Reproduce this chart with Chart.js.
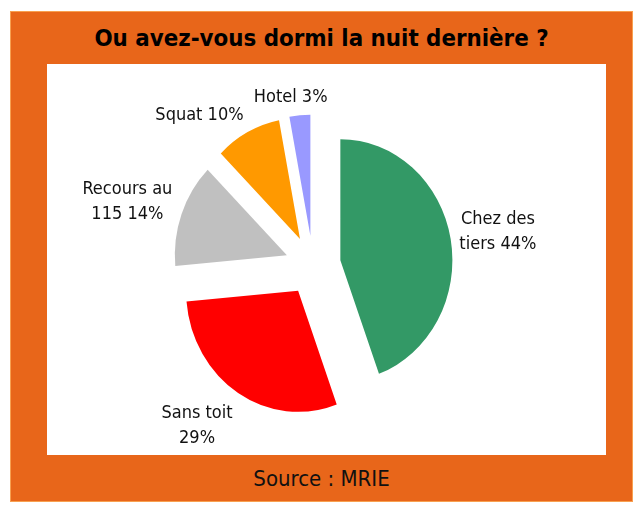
<!DOCTYPE html>
<html><head><meta charset="utf-8">
<script src="https://cdn.jsdelivr.net/npm/chart.js@4.4.0/dist/chart.umd.min.js"></script>
<style>
html,body{margin:0;padding:0;background:#fff;}
#wrap{position:relative;width:637px;height:507px;overflow:hidden;font-family:"DejaVu Sans Condensed","DejaVu Sans",sans-serif;}
#frame{position:absolute;left:10px;top:11px;width:621px;height:489px;background:#E8661A;border:1px solid #F8A050;}
#plot{position:absolute;left:47px;top:64px;width:559px;height:391px;background:#fff;}
#title{position:absolute;left:10px;width:623px;top:24px;line-height:28px;text-align:center;font-weight:bold;font-size:23.8px;color:#000;}
#source{position:absolute;left:10px;width:623px;top:466px;line-height:26px;text-align:center;font-size:22px;color:#111;}
#c{position:absolute;left:0;top:0;}
</style>
</head><body>
<div id="wrap">
  <div id="frame"></div>
  <div id="plot"></div>
  <div id="title">Ou avez-vous dormi la nuit dernière ?</div>
  <div id="source">Source : MRIE</div>
  <canvas id="c" width="637" height="507"></canvas>
</div>
<script>
// Data (percent shares; labels show them rounded)
const categories = ["Chez des tiers", "Sans toit", "Recours au 115", "Squat", "Hotel"];
const labelLines = [["Chez des", "tiers 44%"], ["Sans toit", "29%"], ["Recours au", "115 14%"], ["Squat 10%"], ["Hotel 3%"]];
const values = [44.4, 29.2, 13.9, 9.5, 3.0];

// Styling
const colors = ["#339966", "#FF0000", "#C0C0C0", "#FF9900", "#9999FF"];
const EXPLODE = 30;          // px radial displacement of each slice
const SCALE_X = 0.926;       // pie drawn slightly elliptical
const labelNudge = [[2, -1], [-18, 5], [-5, -1], [-24, 1], [-5, 3]];
const LABEL_FONT = '18px "DejaVu Sans Condensed", "DejaVu Sans", sans-serif';
const LINE_H = 25;

const explodePlugin = {
  id: 'explode',
  beforeDatasetDraw(chart, args) {
    const ctx = chart.ctx;
    const meta = args.meta;
    meta.data.forEach((arc) => {
      const a = (arc.startAngle + arc.endAngle) / 2;
      ctx.save();
      ctx.translate(arc.x, arc.y);
      ctx.scale(SCALE_X, 1);
      ctx.translate(Math.cos(a) * EXPLODE, Math.sin(a) * EXPLODE);
      ctx.translate(-arc.x, -arc.y);
      arc.draw(ctx, chart.chartArea);
      ctx.restore();
    });
    return false;
  },
  afterDatasetsDraw(chart) {
    const ctx = chart.ctx;
    const meta = chart.getDatasetMeta(0);
    ctx.save();
    ctx.font = LABEL_FONT;
    ctx.fillStyle = "#111";
    ctx.textAlign = "center";
    ctx.textBaseline = "middle";
    meta.data.forEach((arc, i) => {
      const a = (arc.startAngle + arc.endAngle) / 2;
      const dx = Math.cos(a), dy = Math.sin(a);
      const lines = labelLines[i];
      const halfW = Math.max(...lines.map(l => ctx.measureText(l).width)) / 2;
      const halfH = lines.length * LINE_H / 2;
      const dist = arc.outerRadius + EXPLODE + 8;
      const cx = arc.x + dist * SCALE_X * dx + dx * halfW + labelNudge[i][0];
      const cy = arc.y + dist * dy + dy * halfH + labelNudge[i][1];
      lines.forEach((l, k) => {
        ctx.fillText(l, cx, cy - halfH + LINE_H / 2 + k * LINE_H);
      });
    });
    ctx.restore();
  }
};

new Chart(document.getElementById('c'), {
  type: 'pie',
  data: {
    labels: categories,
    datasets: [{
      data: values,
      backgroundColor: colors,
      borderWidth: 0,
      radius: 121,
      offset: 0
    }]
  },
  options: {
    responsive: false,
    devicePixelRatio: 1,
    animation: false,
    events: [],
    layout: { padding: { left: 100, right: 111, top: 100, bottom: 76 } },
    plugins: {
      legend: { display: false },
      title: { display: false },
      tooltip: { enabled: false }
    }
  },
  plugins: [explodePlugin]
});
</script>
</body></html>
